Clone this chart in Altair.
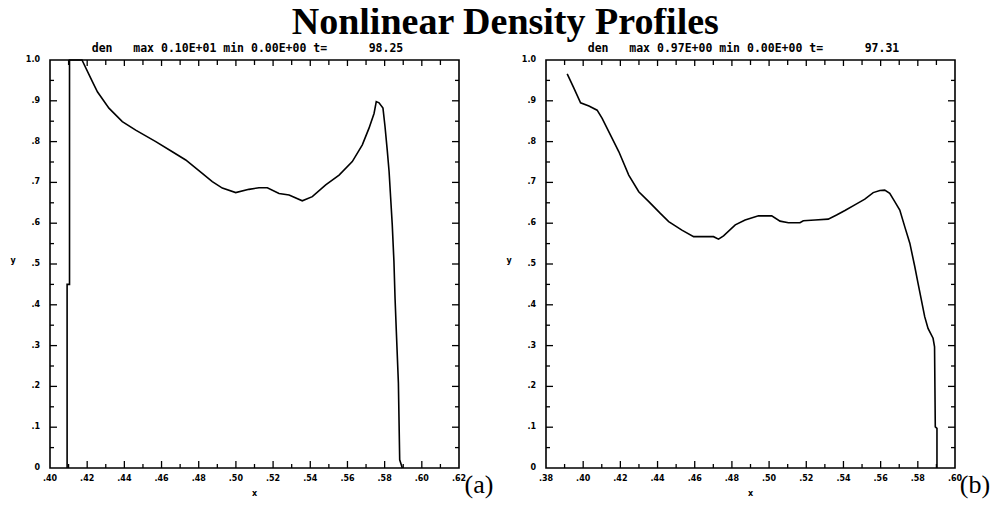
import altair as alt
import pandas as pd

# ---- data ----
xa = [0.4092, 0.4092, 0.4105, 0.4105, 0.4172, 0.4228, 0.4255, 0.4317, 0.4389, 0.4461,
      0.4569, 0.4658, 0.4730, 0.4819, 0.4873, 0.4927, 0.4999, 0.5070, 0.5124, 0.5169,
      0.5232, 0.5286, 0.5357, 0.5411, 0.5483, 0.5555, 0.5626, 0.5680, 0.5716, 0.5743,
      0.5755, 0.5770, 0.5791, 0.5802, 0.5814, 0.5824, 0.5832, 0.5841, 0.5850, 0.5856,
      0.5863, 0.5874, 0.5881, 0.5895]
ya = [0.0, 0.45, 0.45, 1.0, 1.0, 0.947, 0.922, 0.882, 0.849, 0.828,
      0.800, 0.775, 0.755, 0.722, 0.702, 0.686, 0.675, 0.683, 0.687, 0.687,
      0.673, 0.669, 0.655, 0.665, 0.694, 0.718, 0.751, 0.792, 0.833, 0.869,
      0.898, 0.895, 0.882, 0.837, 0.779, 0.726, 0.665, 0.596, 0.506, 0.416,
      0.334, 0.208, 0.020, 0.0]

xb = [0.3914, 0.3950, 0.3986, 0.4031, 0.4075, 0.4102, 0.4147, 0.4192, 0.4245, 0.4299,
      0.4353, 0.4415, 0.4460, 0.4531, 0.4594, 0.4657, 0.4701, 0.4728, 0.4755, 0.4818,
      0.4871, 0.4943, 0.5014, 0.5059, 0.5104, 0.5166, 0.5184, 0.5247, 0.5318, 0.5363,
      0.5408, 0.5461, 0.5515, 0.5560, 0.5596, 0.5622, 0.5649, 0.5676, 0.5703, 0.5730,
      0.5757, 0.5783, 0.5801, 0.5819, 0.5837, 0.5855, 0.5882, 0.5890, 0.5894, 0.5903,
      0.5903]
yb = [0.966, 0.931, 0.895, 0.887, 0.877, 0.857, 0.816, 0.775, 0.718, 0.677,
      0.653, 0.624, 0.604, 0.583, 0.567, 0.567, 0.567, 0.561, 0.569, 0.596,
      0.608, 0.618, 0.618, 0.605, 0.601, 0.601, 0.606, 0.608, 0.610, 0.620,
      0.631, 0.645, 0.659, 0.675, 0.680, 0.681, 0.673, 0.653, 0.632, 0.591,
      0.551, 0.495, 0.453, 0.412, 0.371, 0.342, 0.318, 0.297, 0.101, 0.097,
      0.0]

xdom_a = [0.40, 0.62]
xdom_b = [0.38, 0.60]
xmajor_a = [0.40, 0.42, 0.44, 0.46, 0.48, 0.50, 0.52, 0.54, 0.56, 0.58, 0.60, 0.62]
xminor_a = [0.41, 0.43, 0.45, 0.47, 0.49, 0.51, 0.53, 0.55, 0.57, 0.59, 0.61]
xmajor_b = [0.38, 0.40, 0.42, 0.44, 0.46, 0.48, 0.50, 0.52, 0.54, 0.56, 0.58, 0.60]
xminor_b = [0.39, 0.41, 0.43, 0.45, 0.47, 0.49, 0.51, 0.53, 0.55, 0.57, 0.59]
ymajor = [0.0, 0.1, 0.2, 0.3, 0.4, 0.5, 0.6, 0.7, 0.8, 0.9, 1.0]
yminor = [0.05, 0.15, 0.25, 0.35, 0.45, 0.55, 0.65, 0.75, 0.85, 0.95]

NB = "\u00a0"
sub_a = "den" + NB * 3 + "max" + NB + "0.10E+01" + NB + "min" + NB + "0.00E+00" + NB + "t=" + NB * 6 + "98.25"
sub_b = "den" + NB * 3 + "max" + NB + "0.97E+00" + NB + "min" + NB + "0.00E+00" + NB + "t=" + NB * 6 + "97.31"

W, H = 409, 408
FONT = "DejaVu Sans"


def xlab(v):
    return ("%.2f" % v).replace("0.", ".", 1)


def ylab(v):
    if v == 0:
        return "0"
    if v == 1:
        return "1.0"
    return ("%.1f" % v).replace("0.", ".", 1)


def small_text(txt, xpos, ypos):
    return alt.Chart(pd.DataFrame({"t": [txt]})).mark_text(
        font=FONT, fontWeight="bold", fontSize=8, color="black", align="center", baseline="middle"
    ).encode(text="t:N", x=alt.value(xpos), y=alt.value(ypos))


def panel(xs, ys, xdom, xmaj, xmin, subtitle, tag):
    df = pd.DataFrame({"x": xs, "y": ys, "i": list(range(len(xs)))})
    xscale = alt.Scale(domain=xdom, nice=False, zero=False)
    yscale = alt.Scale(domain=[0, 1], nice=False, zero=False)

    line = alt.Chart(df).mark_line(color="black", strokeWidth=1.6).encode(
        x=alt.X("x:Q", scale=xscale, axis=None),
        y=alt.Y("y:Q", scale=yscale, axis=None),
        order="i:Q",
    )

    def xt(vals, y0, y1):
        return alt.Chart(pd.DataFrame({"v": vals})).mark_rule(color="black", strokeWidth=1.3).encode(
            x=alt.X("v:Q", scale=xscale, axis=None), y=alt.value(y0), y2=alt.value(y1))

    def yt(vals, x0, x1):
        return alt.Chart(pd.DataFrame({"v": vals})).mark_rule(color="black", strokeWidth=1.3).encode(
            y=alt.Y("v:Q", scale=yscale, axis=None), x=alt.value(x0), x2=alt.value(x1))

    inner_maj = xmaj[1:-1]
    inner_ymaj = ymajor[1:-1]
    ticks = [
        xt(inner_maj, H, H - 7), xt(xmin, H, H - 4),
        xt(inner_maj, 0, 6), xt(xmin, 0, 5),
        yt(inner_ymaj, 0, 7), yt(yminor, 0, 4),
        yt(inner_ymaj, W, W - 7), yt(yminor, W, W - 4),
    ]

    xlabels = alt.Chart(pd.DataFrame({"v": xmaj, "lab": [xlab(v) for v in xmaj]})).mark_text(
        font=FONT, fontWeight="bold", fontSize=8, color="black", align="center", baseline="middle"
    ).encode(x=alt.X("v:Q", scale=xscale, axis=None), y=alt.value(H + 11), text="lab:N")

    ylabels = alt.Chart(pd.DataFrame({"v": ymajor, "lab": [ylab(v) for v in ymajor]})).mark_text(
        font=FONT, fontWeight="bold", fontSize=8, color="black", align="right", baseline="middle"
    ).encode(y=alt.Y("v:Q", scale=yscale, axis=None), x=alt.value(-10), text="lab:N")

    xtitle = small_text("x", W / 2, H + 26)
    ytitle = small_text("y", -37, H / 2 - 3)

    label = alt.Chart(pd.DataFrame({"t": [tag]})).mark_text(
        font="Liberation Serif", fontSize=26, align="center", baseline="middle", color="black"
    ).encode(text="t:N", x=alt.value(W + 20), y=alt.value(H + 17))

    return alt.layer(line, *ticks, xlabels, ylabels, xtitle, ytitle, label).properties(
        width=W, height=H,
        title=alt.TitleParams(subtitle, font="DejaVu Sans Mono", fontSize=11.5, fontWeight="bold",
                              color="black", offset=2, dx=-7, anchor="middle"),
    )


pa = panel(xa, ya, xdom_a, xmajor_a, xminor_a, sub_a, "(a)")
pb = panel(xb, yb, xdom_b, xmajor_b, xminor_b, sub_b, "(b)")

chart = alt.HConcatChart(hconcat=[pa, pb], spacing=87, bounds="flush").properties(
    title=alt.TitleParams("Nonlinear Density Profiles", font="Liberation Serif", fontSize=38,
                          fontWeight="bold", color="black", anchor="middle", offset=0, dx=5),
    padding={"left": 1, "top": -5, "right": 0, "bottom": 0},
    background="white",
).configure_view(
    stroke="black", strokeWidth=1.6
)

chart.save("out.html", embed_options={"renderer": "svg", "actions": False})
